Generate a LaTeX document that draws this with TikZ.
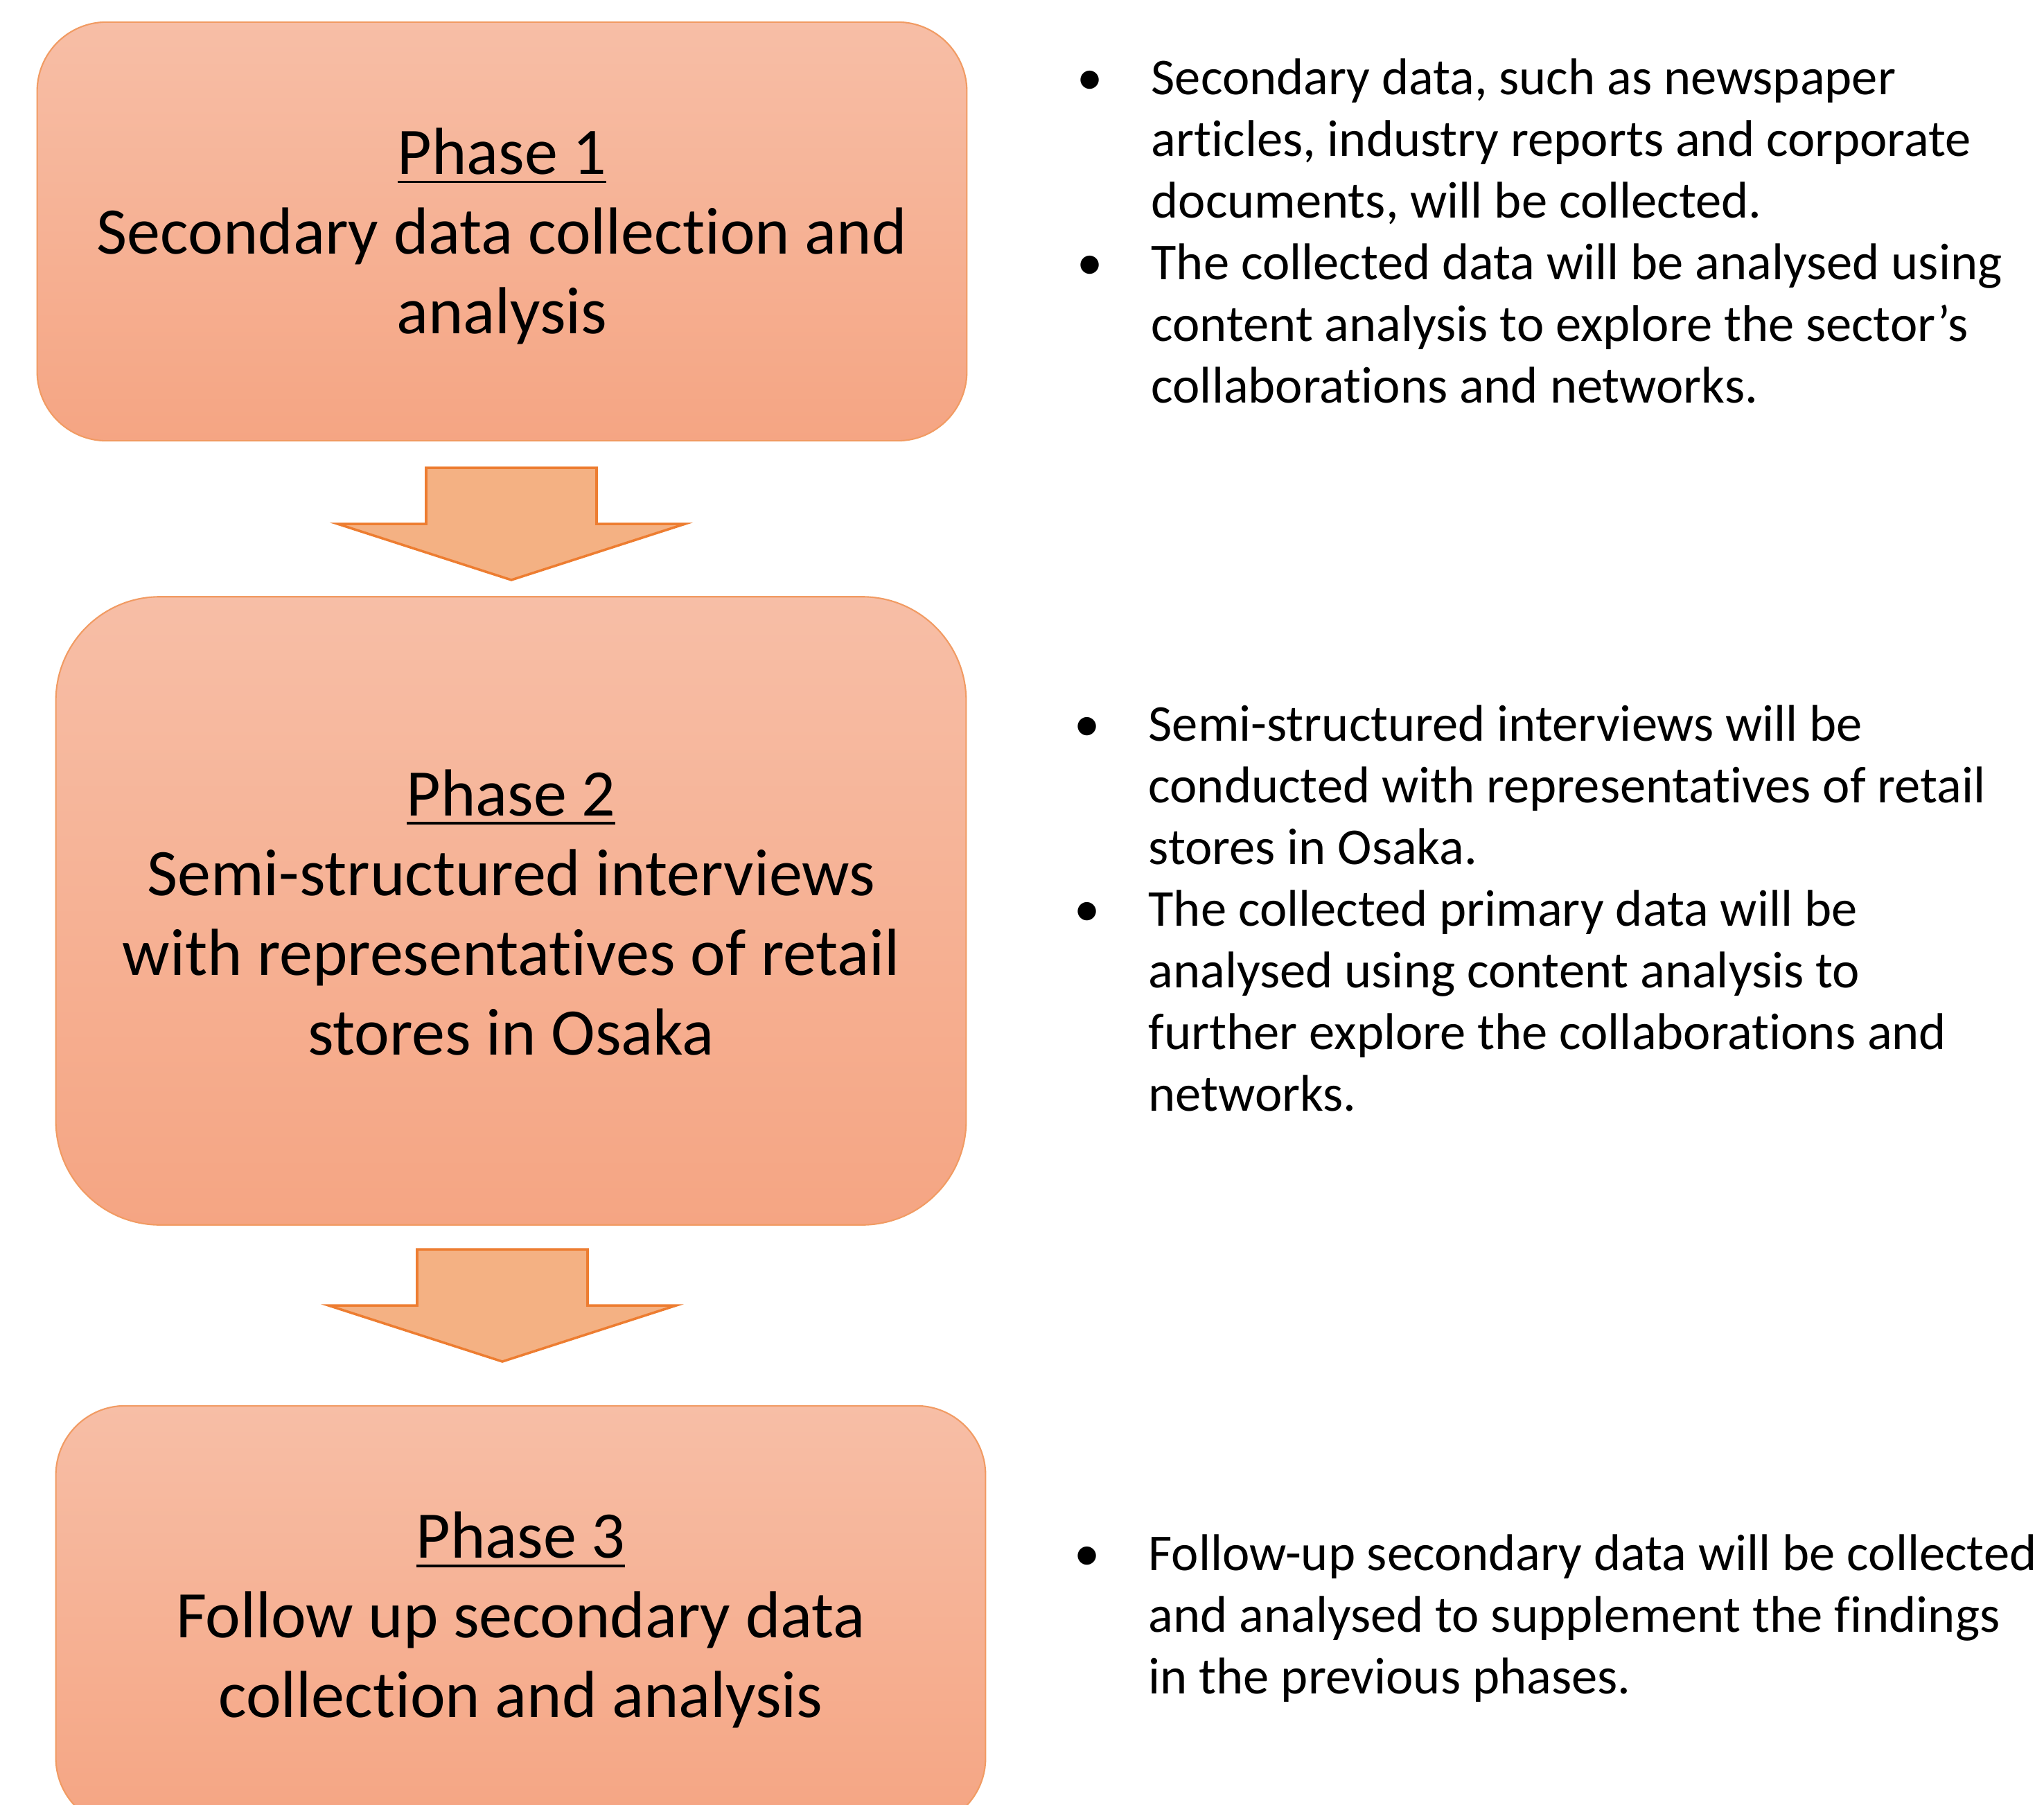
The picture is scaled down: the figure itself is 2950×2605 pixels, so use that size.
\documentclass[tikz,border=0pt]{standalone}
\usepackage{fontspec}
\setmainfont{Carlito}[Ligatures=NoCommon]

\definecolor{phasetop}{HTML}{F7BEA6}
\definecolor{phasebottom}{HTML}{F5A583}
\definecolor{phaseedge}{HTML}{F19B63}
\definecolor{arrowfill}{HTML}{F4B183}
\definecolor{arrowedge}{HTML}{ED7D31}

% underlined heading with a heavier rule
\newcommand{\phasehead}[1]{\setbox0\hbox{#1}\rlap{\rule[-3.6pt]{\wd0}{1pt}}\box0}
% bullet hung to the left of the line
\newcommand{\bul}{\llap{•\hspace{0.7cm}}}

\tikzset{
  phasebox/.style={draw=phaseedge, line width=0.6pt, top color=phasetop,
    bottom color=phasebottom, align=center, text depth=0pt,
    font=\fontsize{27.3}{32.7}\selectfont},
  notes/.style={anchor=base west, align=left, inner sep=0pt,
    font=\fontsize{21.2}{25.3}\selectfont},
  downarrow/.pic={
    \draw[draw=arrowedge, fill=arrowfill, line width=1pt]
      (-123,0) -- (123,0) -- (123,81) -- (251,81) -- (0,162)
      -- (-251,81) -- (-123,81) -- cycle;
  }
}

\begin{document}
\begin{tikzpicture}[x=0.01cm, y=-0.01cm]
\clip (0,0) rectangle (2950,2605);

%the three phases, top to bottom
\node[phasebox, minimum width=13.41cm, minimum height=6.04cm,
  rounded corners=1cm, text height=84pt] (p1) at (724.5,334)
  {\phasehead{Phase 1}\\Secondary data collection and\\analysis};
\node[phasebox, minimum width=13.13cm, minimum height=9.06cm,
  rounded corners=1.5cm, text height=118pt] (p2) at (737.5,1314.5)
  {\phasehead{Phase 2}\\Semi-structured interviews\\with representatives of retail\\stores in Osaka};
\node[phasebox, minimum width=13.41cm, minimum height=6.08cm,
  rounded corners=1cm, text height=83pt] (p3) at (751.5,2333)
  {\phasehead{Phase 3}\\Follow up secondary data\\collection and analysis};

% block arrows between the phases
\pic at (738,675) {downarrow};
\pic at (725,1803) {downarrow};

% what each phase involves (placed by the last baseline)
\node[notes] (n1) at (1661,581)
  {\bul Secondary data, such as newspaper\\
   articles, industry reports and corporate\\
   documents, will be collected.\\
   \bul The collected data will be analysed using\\
   content analysis to explore the sector’s\\
   collaborations and networks.};
\node[notes] (n2) at (1657,1603)
  {\bul Semi-structured interviews will be\\
   conducted with representatives of retail\\
   stores in Osaka.\\
   \bul The collected primary data will be\\
   analysed using content analysis to\\
   further explore the collaborations and\\
   networks.};
\node[notes] (n3) at (1657,2444.5)
  {\bul Follow-up secondary data will be collected\\
   and analysed to supplement the findings\\
   in the previous phases.};
\end{tikzpicture}
\end{document}
